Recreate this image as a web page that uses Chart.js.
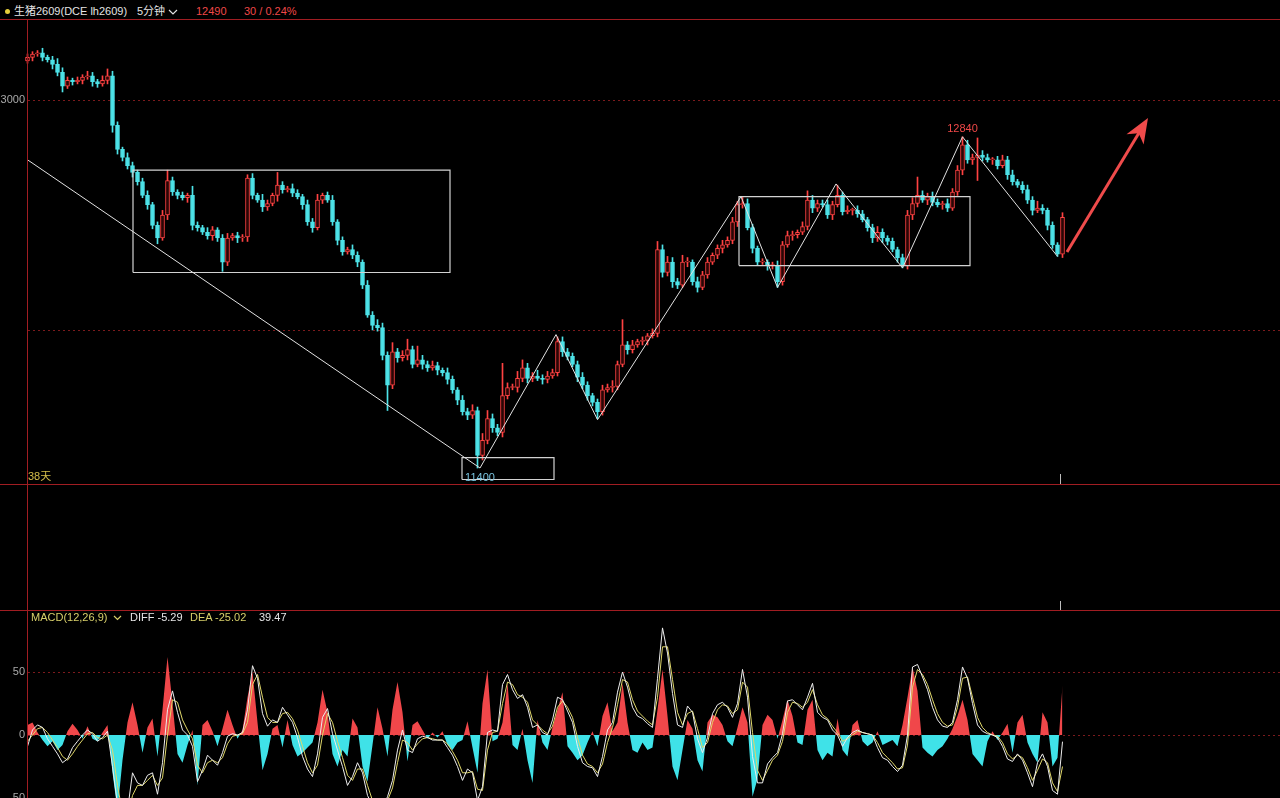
<!DOCTYPE html>
<html><head><meta charset="utf-8"><title>生猪2609</title>
<script src="https://cdn.jsdelivr.net/npm/chart.js@4.4.1/dist/chart.umd.min.js"></script>
<style>
html,body{margin:0;padding:0;background:#000;}
#wrap{position:relative;width:1280px;height:798px;background:#000;overflow:hidden;}
.t{position:absolute;font-family:"Liberation Sans","Noto Sans CJK SC",Arial,sans-serif;font-size:11px;line-height:13px;white-space:nowrap;}
.ln{position:absolute;background:#a11d22;}
canvas{position:absolute;left:0;}
</style></head><body><div id="wrap">
<canvas id="main" width="1280" height="463" style="top:21px;width:1280px;height:463px"></canvas>
<canvas id="macd" width="1280" height="187" style="top:611px;width:1280px;height:187px"></canvas>
<div class="ln" style="left:0;top:19px;width:1280px;height:1px"></div>
<div class="ln" style="left:0;top:484px;width:1280px;height:1px"></div>
<div class="ln" style="left:0;top:610px;width:1280px;height:1px"></div>
<div class="ln" style="left:27px;top:20px;width:1px;height:778px"></div>
<div style="position:absolute;left:1060px;top:474px;width:1px;height:10px;background:#bdbdbd"></div>
<div style="position:absolute;left:1060px;top:601px;width:1px;height:9px;background:#bdbdbd"></div>
<div style="position:absolute;left:5px;top:9px;width:5px;height:5px;border-radius:50%;background:#e6cf3a"></div>
<div class="t" style="left:14px;top:5px;color:#e4e4e4">生猪2609(DCE lh2609)</div>
<div class="t" style="left:137px;top:5px;color:#e4e4e4">5分钟</div>
<svg style="position:absolute;left:168px;top:9px" width="10" height="6"><polyline points="1,1 5,5 9,1" fill="none" stroke="#e0e0e0" stroke-width="1.2"/></svg>
<div class="t" style="left:196px;top:5px;color:#f04848">12490</div>
<div class="t" style="left:244px;top:5px;color:#f04848">30 / 0.24%</div>
<div class="t" style="left:28px;top:470px;color:#d6bf4a">38天</div>
<div class="t" style="left:31px;top:611px;color:#d8d06a">MACD(12,26,9)</div>
<svg style="position:absolute;left:113px;top:615px" width="9" height="6"><polyline points="1,1 4.5,4.5 8,1" fill="none" stroke="#d8d06a" stroke-width="1.2"/></svg>
<div class="t" style="left:130px;top:611px;color:#e6e6e6">DIFF -5.29</div>
<div class="t" style="left:190px;top:611px;color:#d8d06a">DEA -25.02</div>
<div class="t" style="left:259px;top:611px;color:#e6e6e6">39.47</div>
</div>
<script>
// ---------- data ----------
const firstOpen = 13170;
const closes = [13185,13200,13205,13185,13175,13155,13120,13060,13085,13080,
13085,13100,13105,13080,13070,13085,13105,12890,12785,12750,
12715,12685,12645,12585,12545,12455,12400,12500,12650,12600,
12585,12575,12585,12455,12445,12425,12410,12435,12400,12295,
12400,12410,12400,12405,12660,12585,12565,12535,12550,12585,
12630,12610,12615,12595,12580,12545,12470,12445,12565,12585,
12565,12470,12390,12340,12350,12325,12295,12195,12065,12020,
12010,11890,11760,11905,11880,11890,11915,11850,11870,11850,
11835,11845,11825,11815,11785,11740,11695,11645,11630,11650,
11455,11520,11615,11575,11555,11715,11750,11750,11790,11835,
11790,11800,11790,11785,11800,11815,11950,11905,11885,11850,
11795,11760,11715,11685,11645,11740,11750,11755,11850,11935,
11915,11935,11950,11955,11975,11985,12350,12250,12295,12210,
12195,12295,12295,12210,12185,12240,12295,12325,12355,12370,
12390,12470,12545,12550,12445,12355,12295,12295,12280,12280,
12210,12370,12410,12415,12425,12450,12565,12530,12550,12545,
12500,12545,12585,12515,12520,12520,12505,12480,12445,12400,
12425,12400,12385,12350,12315,12280,12500,12550,12585,12565,
12580,12555,12545,12550,12530,12600,12695,12805,12740,12750,
12760,12750,12740,12740,12715,12740,12675,12645,12630,12610,
12565,12520,12530,12520,12455,12370,12330,12490];
const wickUp = [15,10,10,20,10,15,25,20,15,10,
15,10,20,15,10,20,30,20,15,10,
20,15,10,15,20,10,15,20,45,15,
10,15,10,40,15,10,20,15,10,15,
20,10,15,10,15,20,10,25,15,10,
55,15,10,20,15,10,20,15,25,10,
15,20,10,15,10,20,15,10,20,15,
25,20,15,40,15,20,45,15,60,20,
15,20,15,10,20,15,10,20,15,25,
15,30,35,20,15,140,20,15,30,35,
20,15,25,15,20,15,20,20,15,15,
15,20,15,10,15,20,15,25,15,110,
15,20,10,15,10,20,35,20,25,20,
15,30,20,10,20,15,20,10,15,20,
15,20,15,30,20,15,10,15,10,15,
20,15,20,15,10,20,40,20,15,15,
20,15,45,15,20,10,20,15,10,15,
25,15,10,15,10,15,20,25,80,20,
15,20,15,10,20,15,20,35,20,15,
75,20,15,10,15,20,15,20,10,15,
20,15,30,15,10,15,10,20];
const wickDn = [10,15,10,15,10,20,15,25,10,15,
10,15,10,20,15,10,15,30,20,15,
15,20,15,10,20,15,25,10,20,15,
15,10,20,20,15,10,15,20,15,40,
15,10,20,15,20,15,10,20,15,10,
25,15,10,15,10,20,15,20,10,15,
10,15,20,15,10,15,20,15,10,20,
15,20,110,15,20,15,20,15,10,20,
15,10,20,15,20,15,20,15,20,15,
55,20,15,20,15,20,15,10,20,15,
20,15,10,20,15,10,15,20,15,10,
20,15,20,15,30,15,10,20,15,10,
20,15,10,15,20,10,15,20,15,25,
15,10,20,15,20,10,15,10,15,20,
10,15,20,15,10,20,15,10,20,15,
25,15,10,20,15,10,15,20,15,10,
15,20,10,15,10,20,15,10,15,20,
15,20,15,10,20,10,15,20,15,10,
20,15,10,20,15,10,15,20,15,20,
100,15,10,20,15,10,20,15,10,15,
15,20,10,15,20,15,10,15];
const macdHist = [8,10,2,-4,-9,-5,-12,-8,3,9,
4,-3,7,-3,-5,2,8,-30,-60,-20,
10,26,8,-14,6,13,-17,20,62,25,
-15,-22,-8,4,-40,8,12,3,-9,5,
20,8,-3,4,30,50,10,-28,-15,5,
8,-10,12,-8,-17,-14,-10,-6,10,36,
18,-15,-25,-12,-17,13,6,-25,-37,-8,
22,5,-17,20,42,18,-21,8,11,4,
-3,2,-2,3,-8,-12,-6,-4,11,-10,
-30,25,52,-5,-3,10,41,-8,-12,5,
-20,-38,12,-6,-12,6,20,34,-9,-14,
-20,-16,-6,3,-9,15,26,3,10,41,
10,-12,-14,-6,-12,-10,20,52,15,-25,
-36,-12,12,5,-20,-29,10,16,14,8,
-5,-9,6,22,10,-49,-35,8,16,12,
-3,12,28,15,-6,-8,20,28,-12,-20,
-14,-17,13,-12,-17,8,12,-5,-9,-6,
3,-8,-6,-4,-9,8,30,54,35,-10,
-14,-17,-12,-9,-3,5,15,28,12,-15,
-20,-25,-5,3,-4,2,9,-14,10,16,
-6,-15,-22,18,10,-25,-18,39.47];
const macdDiff = [-9,4,8,6,-3,-9,-15,-22,-19,-10,
-5,0,4,1,-5,-2,3,-25,-55,-75,
-60,-30,-38,-40,-32,-30,-47,-22,20,35,
18,4,0,-9,-37,-28,-16,-20,-24,-14,
-1,1,0,2,20,55,45,17,7,12,
10,22,16,10,-2,-17,-27,-33,-15,14,
21,1,-12,-25,-40,-33,-22,-30,-48,-56,
-53,-58,-49,-36,-12,4,-12,-14,-3,-1,
-2,-4,-4,-4,-10,-16,-25,-36,-27,-30,
-52,-41,2,4,3,40,48,36,29,32,
22,6,8,2,0,12,30,28,19,10,
-9,-22,-25,-26,-33,-17,4,10,34,50,
38,22,15,13,9,6,45,85,65,33,
8,6,23,18,-3,-14,-2,17,24,26,
22,14,25,52,30,-17,-38,-38,-23,-18,
-14,1,27,28,24,20,30,41,18,14,
12,4,0,-9,-2,2,4,2,1,0,
-10,-18,-20,-25,-29,-24,0,54,56,46,
36,22,12,7,6,10,28,54,45,25,
8,3,1,0,-2,-9,-19,-21,-15,-20,
-30,-41,-22,-15,-25,-44,-47,-5.29];
const macdDea = [-5,0,5,6,2,-4,-10,-17,-20,-15,
-9,-4,1,2,-2,-3,0,-12,-40,-62,
-66,-48,-40,-40,-36,-32,-40,-34,0,28,
26,12,4,-3,-24,-30,-22,-20,-22,-18,
-7,-1,0,1,10,40,48,30,14,10,
10,17,18,13,4,-9,-22,-30,-24,0,
17,10,-5,-18,-32,-36,-27,-27,-40,-52,
-54,-56,-52,-42,-22,-4,-6,-12,-7,-3,
-2,-3,-4,-4,-7,-13,-20,-30,-30,-29,
-43,-44,-12,2,3,25,42,40,32,30,
26,12,8,4,1,7,22,27,22,14,
-2,-16,-23,-25,-30,-23,-6,6,24,44,
42,28,19,15,11,8,30,70,70,44,
18,8,17,19,5,-10,-6,10,20,24,
23,17,20,42,38,2,-28,-36,-28,-20,
-16,-5,18,26,25,22,26,36,24,16,
13,7,2,-5,-3,0,3,2,1,0,
-6,-14,-18,-22,-27,-26,-8,38,52,48,
40,28,17,10,7,8,22,45,46,30,
14,6,2,0,-1,-6,-15,-19,-16,-18,
-26,-36,-28,-19,-22,-38,-45,-25.02];
const priceTicks = [13000, 12000];
const priceTickLabels = ['13000', ''];
const macdTicks = [50, 0, -50];
const macdTickLabels = ['50', '0', '-50'];
// annotations: [candle index, price]
const trendLine = [[0, 12740], [90.5, 11400]];
const zigzag = [[90.5,11400],[105.7,11980],[114,11610],[142.7,12580],[150,12185],[161.7,12635],[175,12270],[187,12840],[206,12320]];
const boxes = [[21.1, 84.5, 12250, 12695], [86.9, 105.3, 11350, 11445], [142.3, 188.5, 12280, 12580]];
const arrowFrom = [207.9, 12339];
const arrowTo = [224.1, 12922];
const highLabel = [187, 12840, '12840'];
const lowLabel = [90.5, 11400, '11400'];

// ---------- styles ----------
const RED = '#ff4242', CYAN = '#4de3e8';
const X_MIN = -5.5, X_MAX = 250.5;
const Y_MAX = 13000 + 79 / 0.23, Y_MIN = Y_MAX - 463 / 0.23;
const M_MAX = 124 * 50 / 63, M_MIN = -50;
const FONT = '11px "Liberation Sans", "Noto Sans CJK SC", Arial, sans-serif';

// ---------- build ----------
const opens = closes.map((c, i) => i === 0 ? firstOpen : closes[i - 1]);
const isUp = closes.map((c, i) => c >= opens[i]);
const bodyData = closes.map((c, i) => ({x: i, y: [opens[i], c]}));
const wickData = closes.map((c, i) => ({x: i, y: [Math.min(opens[i], c) - wickDn[i], Math.max(opens[i], c) + wickUp[i]]}));
const pts = arr => arr.map(p => ({x: p[0], y: p[1]}));
const boxPts = b => [{x:b[0],y:b[2]},{x:b[1],y:b[2]},{x:b[1],y:b[3]},{x:b[0],y:b[3]},{x:b[0],y:b[2]}];
const lineDs = (data, color, w) => ({type:'line', data, borderColor: color, borderWidth: w, pointRadius: 0, tension: 0, fill: false, order: 0});

const gridPlugin = {
  id: 'grid',
  beforeDatasetsDraw(chart, args, o) {
    const {ctx} = chart; const y = chart.scales.y;
    ctx.save();
    ctx.strokeStyle = '#7c1a1d'; ctx.lineWidth = 1; ctx.setLineDash([2, 3]);
    o.values.forEach(v => {
      const py = Math.round(y.getPixelForValue(v)) + 0.5;
      ctx.beginPath(); ctx.moveTo(28, py); ctx.lineTo(chart.width, py); ctx.stroke();
    });
    ctx.setLineDash([]);
    ctx.fillStyle = '#a9a9a9'; ctx.font = FONT; ctx.textAlign = 'right'; ctx.textBaseline = 'middle';
    o.values.forEach((v, k) => { if (o.labels[k]) ctx.fillText(o.labels[k], 25, y.getPixelForValue(v)); });
    ctx.restore();
  }
};

const annoPlugin = {
  id: 'anno',
  afterDatasetsDraw(chart) {
    const {ctx} = chart; const x = chart.scales.x, y = chart.scales.y;
    ctx.save();
    const fx = x.getPixelForValue(arrowFrom[0]), fy = y.getPixelForValue(arrowFrom[1]);
    const tx = x.getPixelForValue(arrowTo[0]), ty = y.getPixelForValue(arrowTo[1]);
    const L = Math.hypot(tx - fx, ty - fy), ux = (tx - fx) / L, uy = (ty - fy) / L, nx = -uy, ny = ux;
    ctx.strokeStyle = '#ef4b4b'; ctx.fillStyle = '#ef4b4b'; ctx.lineWidth = 3;
    ctx.beginPath(); ctx.moveTo(fx, fy); ctx.lineTo(tx - 17 * ux, ty - 17 * uy); ctx.stroke();
    ctx.beginPath(); ctx.moveTo(tx, ty);
    ctx.lineTo(tx - 25 * ux + 10 * nx, ty - 25 * uy + 10 * ny);
    ctx.lineTo(tx - 18 * ux, ty - 18 * uy);
    ctx.lineTo(tx - 25 * ux - 10 * nx, ty - 25 * uy - 10 * ny);
    ctx.closePath(); ctx.fill();
    ctx.font = FONT; ctx.textAlign = 'center'; ctx.textBaseline = 'middle';
    ctx.fillStyle = '#f04848';
    ctx.fillText(highLabel[2], x.getPixelForValue(highLabel[0]), y.getPixelForValue(highLabel[1]) - 8);
    ctx.fillStyle = '#79c4e0';
    ctx.fillText(lowLabel[2], x.getPixelForValue(lowLabel[0]), y.getPixelForValue(lowLabel[1]) + 10);
    ctx.restore();
  }
};

const baseOpts = (ymin, ymax, grid) => ({
  responsive: false, animation: false, events: [],
  layout: {padding: 0},
  plugins: {legend: {display: false}, tooltip: {enabled: false}, grid},
  scales: {
    x: {type: 'linear', min: X_MIN, max: X_MAX, display: false, offset: false},
    y: {type: 'linear', min: ymin, max: ymax, display: false}
  }
});

new Chart(document.getElementById('main'), {
  type: 'bar',
  data: {datasets: [
    {type: 'bar', data: wickData, backgroundColor: isUp.map(u => u ? RED : CYAN), barThickness: 1, grouped: false, minBarLength: 1, order: 3},
    {type: 'bar', data: bodyData, backgroundColor: isUp.map(u => u ? '#2a0606' : CYAN), borderColor: isUp.map(u => u ? RED : CYAN),
      borderWidth: 1, borderSkipped: false, barThickness: 4, grouped: false, minBarLength: 1, order: 2},
    lineDs(pts(trendLine), '#e2e2e2', 1),
    lineDs(pts(zigzag), '#e2e2e2', 1),
    ...boxes.map(b => lineDs(boxPts(b), '#d2d2d2', 1.2))
  ]},
  options: baseOpts(Y_MIN, Y_MAX, {values: priceTicks, labels: priceTickLabels}),
  plugins: [gridPlugin, annoPlugin]
});

const idx = arr => arr.map((v, i) => ({x: i, y: v}));
new Chart(document.getElementById('macd'), {
  type: 'line',
  data: {datasets: [
    {data: idx(macdHist), borderWidth: 0, pointRadius: 0, tension: 0, fill: {target: 'origin', above: '#f0474a', below: '#3fe2e8'}, order: 3},
    {data: idx(macdDea), borderColor: '#e0d86a', borderWidth: 1, pointRadius: 0, tension: 0, fill: false, order: 1},
    {data: idx(macdDiff), borderColor: '#eeeeee', borderWidth: 1, pointRadius: 0, tension: 0, fill: false, order: 0}
  ]},
  options: baseOpts(M_MIN, M_MAX, {values: macdTicks, labels: macdTickLabels}),
  plugins: [gridPlugin]
});
</script>
</body></html>
